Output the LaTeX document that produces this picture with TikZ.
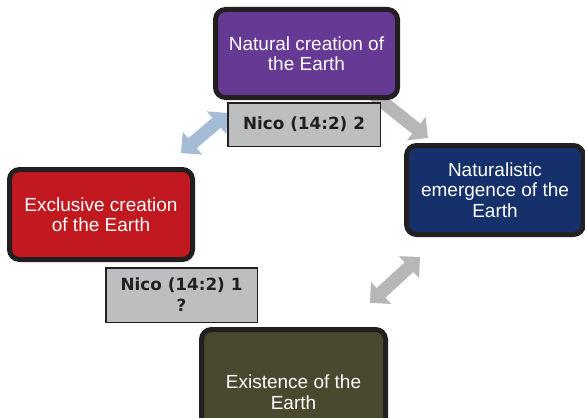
\documentclass[tikz,border=0pt]{standalone}
\usepackage{fontspec}
\setmainfont{Liberation Sans}
\newfontfamily\tagfont{DejaVu Sans}
\usetikzlibrary{arrows.meta}

\definecolor{edgedark}{HTML}{231F20}
\definecolor{purplebox}{HTML}{663A94}
\definecolor{redbox}{HTML}{C1191F}
\definecolor{navybox}{HTML}{15306B}
\definecolor{olivebox}{HTML}{4A482E}
\definecolor{taggray}{HTML}{BCBEC0}
\definecolor{arrowgray}{HTML}{B6B7B9}
\definecolor{arrowblue}{HTML}{A5BCD6}

\tikzset{
  stage/.style={draw=edgedark, line width=5pt, rounded corners=10pt,
    text=white, align=center, inner sep=0pt,
    font=\fontsize{19}{20.5}\selectfont},
  tagbox/.style={draw=edgedark, line width=1.5pt, fill=taggray,
    text=edgedark, align=center, inner sep=0pt,
    font=\tagfont\fontsize{16.8}{21}\selectfont\bfseries},
  blockarrow/.style={line width=13pt,
    arrows={Triangle[width=29pt,length=15pt]-Triangle[width=29pt,length=15pt]}}
}

\begin{document}
\begin{tikzpicture}[x=1pt,y=-1pt]
\useasboundingbox (0,0) rectangle (585,417);

% end points of the block arrows
\coordinate (blueA) at (181,153);
\coordinate (blueB) at (228,113);
\coordinate (topA)  at (345,72);
\coordinate (topB)  at (428,138);
\coordinate (lowA)  at (420,257);
\coordinate (lowB)  at (370,303);

% block arrows, drawn first so the boxes sit on top
\draw[blockarrow, draw=arrowblue, fill=arrowblue] (blueA) -- (blueB);
\draw[blockarrow, draw=arrowgray, fill=arrowgray] (topA) -- (topB);
\draw[blockarrow, draw=arrowgray, fill=arrowgray] (lowA) -- (lowB);

% the four stages
\node[stage, fill=purplebox, minimum width=182pt, minimum height=88pt]
  (natural) at (306.5,53.5) {Natural creation of\\the Earth};
\node[stage, fill=redbox, minimum width=183pt, minimum height=90pt]
  (exclusive) at (101,214.5) {Exclusive creation\\of the Earth};
\node[stage, fill=navybox, minimum width=177pt, minimum height=89pt]
  (naturalistic) at (495,190) {Naturalistic\\emergence of the\\Earth};
\node[stage, fill=olivebox, minimum width=184pt, minimum height=125pt]
  (existence) at (293.5,392) {Existence of the\\Earth};

% tags
\node[tagbox, minimum width=152.5pt, minimum height=43.5pt]
  (tagtwo) at (304,124.5) {Nico (14:2) 2};
\node[tagbox, minimum width=151.5pt, minimum height=54.5pt]
  (tagone) at (181.5,295) {Nico (14:2) 1\\?};
\end{tikzpicture}
\end{document}
